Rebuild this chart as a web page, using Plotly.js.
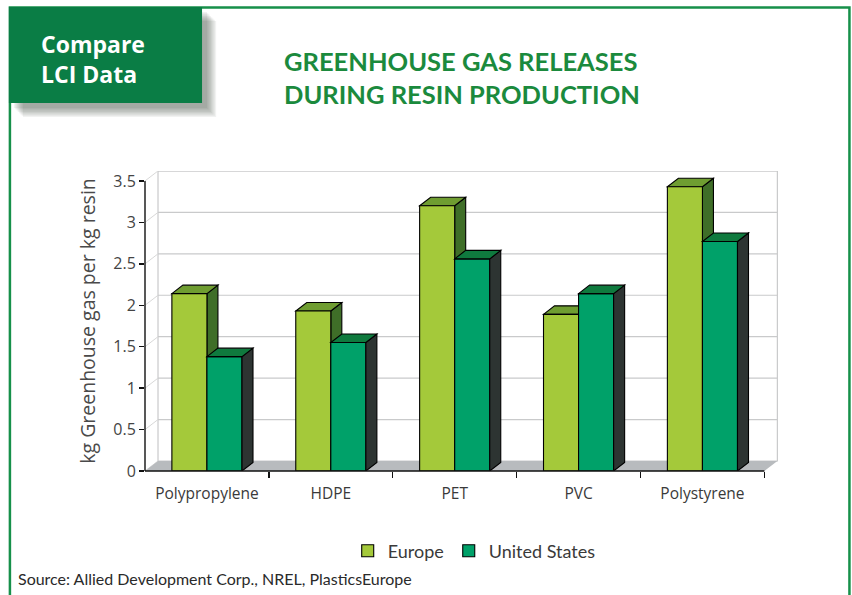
<!DOCTYPE html>
<html>
<head>
<meta charset="utf-8">
<script src="https://cdn.plot.ly/plotly-3.0.1.min.js"></script>
<style>
  html, body { margin: 0; padding: 0; background: #ffffff; }
  #chart { width: 852px; height: 595px; }
</style>
</head>
<body>
<div id="chart"></div>
<script>
// ---- data ----
const categories = ["Polypropylene", "HDPE", "PET", "PVC", "Polystyrene"];
const europe = [2.14, 1.93, 3.20, 1.89, 3.43];
const unitedStates = [1.38, 1.55, 2.56, 2.14, 2.77];
const seriesNames = ["Europe", "United States"];
const yTickVals = [0, 0.5, 1, 1.5, 2, 2.5, 3, 3.5];
const yTickText = ["0", "0.5", "1", "1.5", "2", "2.5", "3", "3.5"];

// ---- geometry / style ----
const W = 852, H = 595;
const L = 145, R = 777.6, T = 171, B = 471;
const xr = [-0.5, 4.61], yr = [0, 3.62];
const pxPerX = (R - L) / (xr[1] - xr[0]);
const pxPerY = (B - T) / (yr[1] - yr[0]);
const barW = 0.283;
const bDx = 11 / pxPerX, bDy = 8.5 / pxPerY;     // bar depth
const wDx = 13 / pxPerX, wDy = 10 / pxPerY;      // wall depth
const xIdx = categories.map((c, i) => i);
const xMin = -0.5, xMax = categories.length - 0.5, yTop = yTickVals[yTickVals.length - 1];

const px2paperX = p => (p - L) / (R - L);
const py2paperY = p => (B - p) / (B - T);
const dX2paper = v => (v - xr[0]) / (xr[1] - xr[0]);
const dY2paper = v => (v - yr[0]) / (yr[1] - yr[0]);

const col = {
  euFront: "#a4c93a", euTop: "#6f9d31", euSide: "#3f6e28",
  usFront: "#00a169", usTop: "#0f7a3e", usSide: "#2d3432",
  frame: "#17904a", box: "#0a7d45", title: "#1b8a3d",
  grid: "#c9cacb", floor: "#b8bbbe", text: "#3a3a3a"
};

const shapes = [];
// page frame
shapes.push({type: "rect", xref: "paper", yref: "paper", layer: "below",
  x0: px2paperX(10), x1: px2paperX(849), y0: py2paperY(620), y1: py2paperY(7.5),
  line: {color: col.frame, width: 2.5}, fillcolor: "rgba(0,0,0,0)"});
// box shadow (soft)
for (let k = 0; k < 8; k++) {
  const off = 4 + k * 1.3;
  shapes.push({type: "rect", xref: "paper", yref: "paper", layer: "below",
    x0: px2paperX(10 + off), x1: px2paperX(203 + off), y0: py2paperY(104 + off), y1: py2paperY(8 + off),
    line: {width: 0}, fillcolor: "rgba(60,70,60,0.07)"});
}
// green box
shapes.push({type: "rect", xref: "paper", yref: "paper", layer: "below",
  x0: px2paperX(9), x1: px2paperX(202), y0: py2paperY(103), y1: py2paperY(7),
  line: {width: 0}, fillcolor: col.box});

// back wall
shapes.push({type: "rect", xref: "x", yref: "y", layer: "below",
  x0: xMin + wDx, x1: xMax + wDx, y0: wDy, y1: yTop + wDy,
  line: {color: col.grid, width: 1.2}, fillcolor: "#ffffff"});
yTickVals.forEach(v => {
  if (v > 0) {
    shapes.push({type: "line", xref: "x", yref: "y", layer: "below",
      x0: xMin + wDx, x1: xMax + wDx, y0: v + wDy, y1: v + wDy,
      line: {color: col.grid, width: 1.2}});
  }
  shapes.push({type: "line", xref: "x", yref: "y", layer: "below",
    x0: xMin, x1: xMin + wDx, y0: v, y1: v + wDy,
    line: {color: "#d8d8d8", width: 1}});
});
// floor
shapes.push({type: "path", xref: "x", yref: "y", layer: "below",
  path: `M ${xMin},0 L ${xMax},0 L ${xMax + wDx},${wDy} L ${xMin + wDx},${wDy} Z`,
  line: {width: 0}, fillcolor: col.floor});

// bar faces
function faces(x0, x1, v, topC, sideC, layer) {
  shapes.push({type: "path", xref: "x", yref: "y", layer: layer,
    path: `M ${x1},0 L ${x1 + bDx},${bDy} L ${x1 + bDx},${v + bDy} L ${x1},${v} Z`,
    line: {color: "#000", width: 1.1}, fillcolor: sideC});
  shapes.push({type: "path", xref: "x", yref: "y", layer: layer,
    path: `M ${x0},${v} L ${x1},${v} L ${x1 + bDx},${v + bDy} L ${x0 + bDx},${v + bDy} Z`,
    line: {color: "#000", width: 1.1}, fillcolor: topC});
}
xIdx.forEach((i, k) => {
  faces(i - barW, i, europe[k], col.euTop, col.euSide, "between");
  faces(i, i + barW, unitedStates[k], col.usTop, col.usSide, "above");
});

// axis lines
shapes.push({type: "line", xref: "paper", yref: "paper", layer: "above",
  x0: dX2paper(xMin), x1: dX2paper(xMin), y0: 0, y1: dY2paper(yTop),
  line: {color: "#111", width: 1.4}});
shapes.push({type: "line", xref: "paper", yref: "paper", layer: "above",
  x0: dX2paper(xMin), x1: dX2paper(xMax), y0: 0, y1: 0,
  line: {color: "#111", width: 1.4}});

const traces = [
  {type: "bar", name: seriesNames[0], x: xIdx, y: europe, width: barW, offset: -barW,
   marker: {color: col.euFront, line: {color: "#000", width: 1.1}}, hoverinfo: "skip"},
  {type: "bar", name: seriesNames[1], x: xIdx, y: unitedStates, width: barW, offset: 0,
   marker: {color: col.usFront, line: {color: "#000", width: 1.1}}, hoverinfo: "skip"}
];

const annotations = [
  {xref: "paper", yref: "paper", x: px2paperX(39), y: py2paperY(59), xanchor: "left", yanchor: "middle",
   text: "Compare<br>LCI Data", showarrow: false, align: "left",
   font: {family: "'Open Sans', Lato, sans-serif", size: 23, color: "#ffffff", weight: "bold"}},
  {xref: "paper", yref: "paper", x: px2paperX(16), y: py2paperY(578), xanchor: "left", yanchor: "middle",
   text: "Source: Allied Development Corp., NREL, PlasticsEurope", showarrow: false,
   font: {family: "Lato, 'Open Sans', sans-serif", size: 16, color: "#2a2a2a"}}
];

const layout = {
  width: W, height: H,
  margin: {l: L, r: W - R, t: T, b: H - B, pad: 0},
  paper_bgcolor: "#ffffff", plot_bgcolor: "rgba(0,0,0,0)",
  title: {
    text: "GREENHOUSE GAS RELEASES<br>DURING RESIN PRODUCTION",
    xref: "container", yref: "container", x: 284 / W, xanchor: "left",
    y: 1 - 71 / H, yanchor: "middle", align: "left",
    font: {family: "Lato, 'Open Sans', sans-serif", size: 25.5, color: col.title, weight: "bold"}
  },
  showlegend: true,
  legend: {orientation: "h", x: px2paperX(474), xanchor: "center",
    y: py2paperY(551), yanchor: "middle", font: {family: "Lato, 'Open Sans', sans-serif", size: 18, color: col.text},
    bgcolor: "rgba(0,0,0,0)", itemwidth: 30, traceorder: "normal"},
  barmode: "overlay",
  xaxis: {
    range: xr, type: "linear", tickmode: "array", tickvals: xIdx, ticktext: categories,
    ticks: "", showgrid: false, zeroline: false, showline: false, fixedrange: true,
    ticklabelstandoff: 11,
    tickfont: {family: "'Open Sans', sans-serif", size: 15.5, color: col.text},
    minor: {tickmode: "array", tickvals: xIdx.map(i => i + 0.5), ticks: "outside", ticklen: 6,
      tickwidth: 1.4, tickcolor: "#111", showgrid: false}
  },
  yaxis: {
    range: yr, tickmode: "array", tickvals: yTickVals, ticktext: yTickText,
    ticks: "outside", ticklen: 5, tickwidth: 1.4, tickcolor: "#111",
    showgrid: false, zeroline: false, showline: false, fixedrange: true,
    tickfont: {family: "'Open Sans', sans-serif", size: 16, color: "#444"},
    title: {text: "kg Greenhouse gas per kg resin", standoff: 12,
      font: {family: "'Open Sans', sans-serif", size: 19.5, color: "#4a4a4a"}},
    automargin: false
  },
  shapes: shapes,
  annotations: annotations
};

Plotly.newPlot("chart", traces, layout, {staticPlot: true, displayModeBar: false});
</script>
</body>
</html>
